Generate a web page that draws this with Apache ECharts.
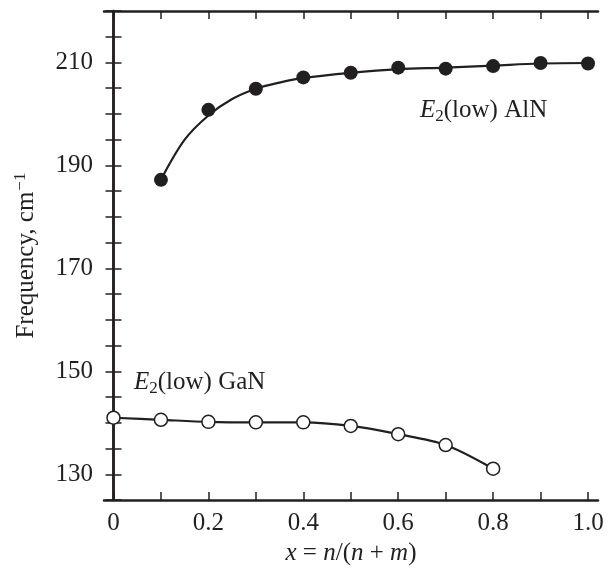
<!DOCTYPE html>
<html>
<head>
<meta charset="utf-8">
<script src="https://cdn.jsdelivr.net/npm/echarts@6/dist/echarts.min.js"></script>
<style>
  html, body { margin: 0; padding: 0; background: #fff; }
  #chart { width: 608px; height: 571px; }
</style>
</head>
<body>
<div id="chart"></div>
<script>
// measured points, x = n/(n+m)
var alnX = [0.1, 0.2, 0.3, 0.4, 0.5, 0.6, 0.7, 0.8, 0.9, 1.0]
var alnY = [187.2, 200.8, 204.9, 207.1, 208.0, 209.0, 208.8, 209.3, 209.9, 209.8]
// fitted curve through AlN
var alnFitX = [0.1, 0.15, 0.2, 0.25, 0.3, 0.35, 0.4, 0.5, 0.6, 0.7, 0.8, 0.9, 1.0]
var alnFitY = [187.2, 195.0, 199.7, 202.9, 204.9, 206.1, 207.0, 208.0, 208.7, 209.0, 209.4, 209.8, 209.9]
var ganX = [0, 0.1, 0.2, 0.3, 0.4, 0.5, 0.6, 0.7, 0.8]
var ganY = [141.0, 140.6, 140.2, 140.1, 140.1, 139.4, 137.8, 135.7, 131.1]
// ticks
var xTicks = [0, 0.1, 0.2, 0.3, 0.4, 0.5, 0.6, 0.7, 0.8, 0.9, 1.0]
var xLabels = [0, 0.2, 0.4, 0.6, 0.8, 1.0]
var yLabels = [130, 150, 170, 190, 210]

var ink = '#231f20'
var serif = 'Liberation Serif'
var fs = 25

function pairs (xs, ys) {
  return xs.map(function (x, i) { return [x, ys[i]] })
}

var chart = echarts.init(document.getElementById('chart'))

var xBase = {
  type: 'value',
  min: -0.02,
  max: 1.021,
  axisLine: { show: true, onZero: false, lineStyle: { color: ink, width: 2.5 } },
  axisTick: { show: true, inside: true, length: 8, customValues: xTicks, lineStyle: { color: ink, width: 1.5 } },
  splitLine: { show: false }
}
var yBase = {
  type: 'value',
  min: 125,
  max: 220,
  interval: 5,
  axisLine: { show: true, lineStyle: { color: ink, width: 2.5 } },
  axisTick: { show: true, inside: true, length: 8, lineStyle: { color: ink, width: 1.5 } },
  splitLine: { show: false }
}

var labelRich = {
  i: { fontFamily: serif, fontSize: fs, fontStyle: 'italic', fill: ink },
  sub: { fontFamily: serif, fontSize: 17, fill: ink, padding: [12, 0, 0, 0] }
}

var option = {
  animation: false,
  grid: { left: 104, right: 10, top: 11, bottom: 66, containLabel: false },
  xAxis: [
    Object.assign({}, xBase, {
      position: 'bottom',
      name: '{i|x} = {i|n}/({i|n} + {i|m})',
      nameLocation: 'middle',
      nameGap: 37,
      nameTextStyle: {
        fontFamily: serif, fontSize: fs, color: ink,
        rich: { i: { fontFamily: serif, fontSize: fs, fontStyle: 'italic', color: ink } }
      },
      axisLabel: {
        show: true,
        customValues: xLabels,
        margin: 11,
        fontFamily: serif,
        fontSize: fs,
        color: ink,
        formatter: function (v) { return v === 0 ? '0' : v.toFixed(1) }
      }
    }),
    Object.assign({}, xBase, { position: 'top', axisLabel: { show: false } })
  ],
  yAxis: [
    Object.assign({}, yBase, {
      position: 'left',
      name: 'Frequency, cm{sup|−1}',
      nameLocation: 'middle',
      nameGap: 63,
      nameTextStyle: {
        fontFamily: serif, fontSize: fs, color: ink,
        rich: { sup: { fontFamily: serif, fontSize: 17, color: ink, padding: [0, 0, 12, 1] } }
      },
      axisLabel: {
        show: true,
        margin: 11,
        fontFamily: serif,
        fontSize: fs,
        color: ink,
        formatter: function (v) { return yLabels.indexOf(v) >= 0 ? String(v) : '' }
      }
    }),
    Object.assign({}, yBase, { position: 'right', axisLabel: { show: false } })
  ],
  series: [
    {
      name: 'AlN fit',
      type: 'line',
      data: pairs(alnFitX, alnFitY),
      smooth: 0.35,
      showSymbol: false,
      lineStyle: { color: ink, width: 2.2 },
      z: 2
    },
    {
      name: 'AlN',
      type: 'scatter',
      data: pairs(alnX, alnY),
      symbol: 'circle',
      symbolSize: 14,
      itemStyle: { color: ink, opacity: 1 },
      z: 3
    },
    {
      name: 'GaN',
      type: 'line',
      data: pairs(ganX, ganY),
      smooth: 0.3,
      symbol: 'circle',
      symbolSize: 13,
      showAllSymbol: true,
      lineStyle: { color: ink, width: 2.2 },
      itemStyle: { color: '#fff', borderColor: ink, borderWidth: 1.5 },
      z: 3
    }
  ],
  graphic: [
    {
      type: 'text',
      left: 420,
      top: 98,
      style: {
        text: '{i|E}{sub|2}(low) AlN',
        fontFamily: serif, fontSize: fs, fill: ink,
        rich: labelRich
      }
    },
    {
      type: 'text',
      left: 134,
      top: 370,
      style: {
        text: '{i|E}{sub|2}(low) GaN',
        fontFamily: serif, fontSize: fs, fill: ink,
        rich: labelRich
      }
    }
  ]
}

chart.setOption(option)
</script>
</body>
</html>
